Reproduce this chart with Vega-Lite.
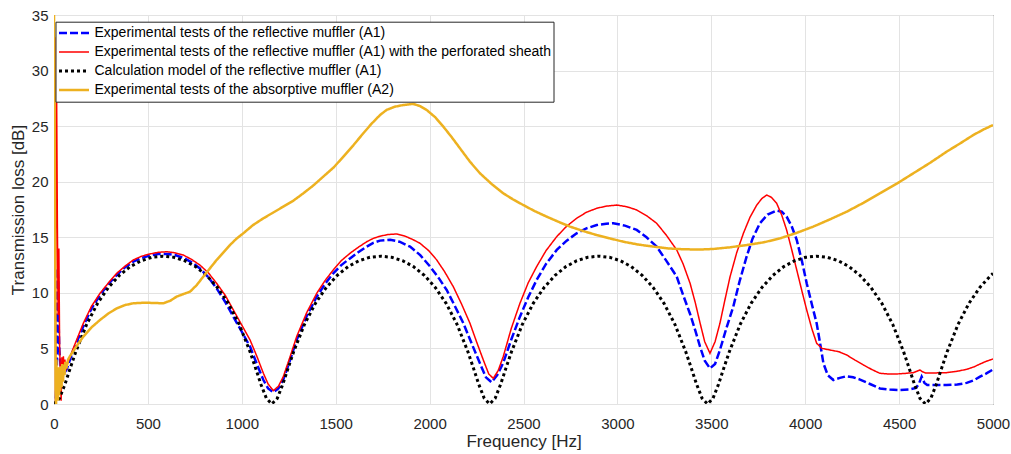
{
  "$schema": "https://vega.github.io/schema/vega-lite/v6.json",
  "width": 939,
  "height": 389,
  "autosize": {"type": "none"},
  "padding": {"left": 54, "top": 15, "right": 18, "bottom": 50},
  "background": "white",
  "config": {"font": "Liberation Sans", "view": {"stroke": "#262626", "strokeWidth": 1}},
  "data": {"values": [
    {"s":"b","f":10,"v":0.5},{"s":"b","f":15,"v":3},{"s":"b","f":19,"v":12.2},{"s":"b","f":22,"v":11},{"s":"b","f":25,"v":7},{"s":"b","f":28,"v":5},{"s":"b","f":32,"v":4},{"s":"b","f":38,"v":3},{"s":"b","f":45,"v":2.5},{"s":"b","f":55,"v":2.8},{"s":"b","f":67,"v":3.1},{"s":"b","f":100,"v":4.7},{"s":"b","f":156,"v":7.0},{"s":"b","f":200,"v":8.6},{"s":"b","f":245,"v":9.8},{"s":"b","f":290,"v":10.8},{"s":"b","f":334,"v":11.6},{"s":"b","f":378,"v":12.3},{"s":"b","f":422,"v":12.8},{"s":"b","f":467,"v":13.15},{"s":"b","f":511,"v":13.35},{"s":"b","f":555,"v":13.5},{"s":"b","f":600,"v":13.5},{"s":"b","f":645,"v":13.4},{"s":"b","f":689,"v":13.15},{"s":"b","f":733,"v":12.75},{"s":"b","f":777,"v":12.2},{"s":"b","f":822,"v":11.4},{"s":"b","f":866,"v":10.4},{"s":"b","f":911,"v":9.2},{"s":"b","f":955,"v":7.86},{"s":"b","f":1000,"v":6.5},{"s":"b","f":1044,"v":5.16},{"s":"b","f":1080,"v":3.6},{"s":"b","f":1115,"v":2.16},{"s":"b","f":1140,"v":1.4},{"s":"b","f":1168,"v":1.05},{"s":"b","f":1195,"v":1.4},{"s":"b","f":1221,"v":2.2},{"s":"b","f":1256,"v":3.9},{"s":"b","f":1292,"v":5.76},{"s":"b","f":1345,"v":7.9},{"s":"b","f":1399,"v":9.66},{"s":"b","f":1443,"v":10.8},{"s":"b","f":1487,"v":11.76},{"s":"b","f":1530,"v":12.5},{"s":"b","f":1576,"v":13.1},{"s":"b","f":1620,"v":13.65},{"s":"b","f":1665,"v":14.16},{"s":"b","f":1700,"v":14.5},{"s":"b","f":1736,"v":14.7},{"s":"b","f":1790,"v":14.78},{"s":"b","f":1840,"v":14.6},{"s":"b","f":1896,"v":14.16},{"s":"b","f":1950,"v":13.4},{"s":"b","f":2003,"v":12.36},{"s":"b","f":2050,"v":11.3},{"s":"b","f":2091,"v":10.26},{"s":"b","f":2135,"v":8.8},{"s":"b","f":2180,"v":7.26},{"s":"b","f":2225,"v":5.4},{"s":"b","f":2268,"v":3.66},{"s":"b","f":2300,"v":2.4},{"s":"b","f":2330,"v":1.95},{"s":"b","f":2360,"v":2.6},{"s":"b","f":2392,"v":3.7},{"s":"b","f":2435,"v":5.8},{"s":"b","f":2481,"v":7.86},{"s":"b","f":2525,"v":9.6},{"s":"b","f":2570,"v":11.16},{"s":"b","f":2620,"v":12.6},{"s":"b","f":2677,"v":13.86},{"s":"b","f":2730,"v":14.7},{"s":"b","f":2783,"v":15.36},{"s":"b","f":2835,"v":15.8},{"s":"b","f":2890,"v":16.1},{"s":"b","f":2940,"v":16.22},{"s":"b","f":2978,"v":16.26},{"s":"b","f":3040,"v":16.05},{"s":"b","f":3103,"v":15.66},{"s":"b","f":3155,"v":15.0},{"s":"b","f":3209,"v":14.16},{"s":"b","f":3260,"v":12.9},{"s":"b","f":3316,"v":11.46},{"s":"b","f":3350,"v":9.8},{"s":"b","f":3387,"v":8.1},{"s":"b","f":3415,"v":6.6},{"s":"b","f":3440,"v":5.16},{"s":"b","f":3465,"v":3.9},{"s":"b","f":3493,"v":3.2},{"s":"b","f":3520,"v":3.6},{"s":"b","f":3546,"v":4.86},{"s":"b","f":3580,"v":6.8},{"s":"b","f":3617,"v":8.76},{"s":"b","f":3650,"v":11.0},{"s":"b","f":3688,"v":13.26},{"s":"b","f":3720,"v":14.9},{"s":"b","f":3759,"v":16.26},{"s":"b","f":3800,"v":17.05},{"s":"b","f":3848,"v":17.4},{"s":"b","f":3875,"v":17.3},{"s":"b","f":3901,"v":16.86},{"s":"b","f":3928,"v":16.0},{"s":"b","f":3955,"v":14.76},{"s":"b","f":3982,"v":12.9},{"s":"b","f":4008,"v":10.86},{"s":"b","f":4035,"v":9.0},{"s":"b","f":4061,"v":7.26},{"s":"b","f":4080,"v":5.4},{"s":"b","f":4097,"v":3.66},{"s":"b","f":4120,"v":2.6},{"s":"b","f":4150,"v":2.16},{"s":"b","f":4185,"v":2.35},{"s":"b","f":4221,"v":2.5},{"s":"b","f":4255,"v":2.4},{"s":"b","f":4292,"v":2.2},{"s":"b","f":4345,"v":1.8},{"s":"b","f":4398,"v":1.4},{"s":"b","f":4450,"v":1.3},{"s":"b","f":4505,"v":1.26},{"s":"b","f":4550,"v":1.3},{"s":"b","f":4590,"v":1.45},{"s":"b","f":4605,"v":1.8},{"s":"b","f":4620,"v":2.46},{"s":"b","f":4635,"v":1.9},{"s":"b","f":4650,"v":1.7},{"s":"b","f":4700,"v":1.7},{"s":"b","f":4753,"v":1.7},{"s":"b","f":4810,"v":1.75},{"s":"b","f":4860,"v":1.9},{"s":"b","f":4900,"v":2.15},{"s":"b","f":4931,"v":2.46},{"s":"b","f":4965,"v":2.75},{"s":"b","f":5000,"v":3.1},
    {"s":"r","f":8,"v":0},{"s":"r","f":12,"v":33},{"s":"r","f":15,"v":25},{"s":"r","f":18,"v":16},{"s":"r","f":22,"v":8},{"s":"r","f":26,"v":14},{"s":"r","f":30,"v":5},{"s":"r","f":34,"v":3},{"s":"r","f":38,"v":0.3},{"s":"r","f":42,"v":4.2},{"s":"r","f":46,"v":2.8},{"s":"r","f":50,"v":4.3},{"s":"r","f":54,"v":2.9},{"s":"r","f":58,"v":4.0},{"s":"r","f":62,"v":3.0},{"s":"r","f":67,"v":3.4},{"s":"r","f":100,"v":4.9},{"s":"r","f":156,"v":7.26},{"s":"r","f":200,"v":8.8},{"s":"r","f":245,"v":9.96},{"s":"r","f":290,"v":10.9},{"s":"r","f":334,"v":11.76},{"s":"r","f":378,"v":12.4},{"s":"r","f":422,"v":12.96},{"s":"r","f":467,"v":13.3},{"s":"r","f":511,"v":13.5},{"s":"r","f":555,"v":13.65},{"s":"r","f":600,"v":13.7},{"s":"r","f":645,"v":13.6},{"s":"r","f":689,"v":13.4},{"s":"r","f":733,"v":13.0},{"s":"r","f":777,"v":12.5},{"s":"r","f":822,"v":11.8},{"s":"r","f":866,"v":10.86},{"s":"r","f":911,"v":9.8},{"s":"r","f":955,"v":8.46},{"s":"r","f":1000,"v":7.1},{"s":"r","f":1044,"v":5.76},{"s":"r","f":1080,"v":4.3},{"s":"r","f":1115,"v":2.76},{"s":"r","f":1140,"v":1.8},{"s":"r","f":1168,"v":1.2},{"s":"r","f":1195,"v":1.6},{"s":"r","f":1221,"v":2.46},{"s":"r","f":1256,"v":4.2},{"s":"r","f":1292,"v":6.06},{"s":"r","f":1345,"v":8.2},{"s":"r","f":1399,"v":9.96},{"s":"r","f":1443,"v":11.1},{"s":"r","f":1487,"v":12.06},{"s":"r","f":1530,"v":12.9},{"s":"r","f":1576,"v":13.56},{"s":"r","f":1620,"v":14.1},{"s":"r","f":1665,"v":14.6},{"s":"r","f":1700,"v":14.9},{"s":"r","f":1736,"v":15.1},{"s":"r","f":1780,"v":15.25},{"s":"r","f":1825,"v":15.3},{"s":"r","f":1870,"v":15.1},{"s":"r","f":1910,"v":14.8},{"s":"r","f":1949,"v":14.46},{"s":"r","f":1995,"v":13.8},{"s":"r","f":2038,"v":12.96},{"s":"r","f":2080,"v":11.9},{"s":"r","f":2126,"v":10.56},{"s":"r","f":2170,"v":9.0},{"s":"r","f":2215,"v":7.26},{"s":"r","f":2250,"v":5.6},{"s":"r","f":2286,"v":3.96},{"s":"r","f":2315,"v":2.7},{"s":"r","f":2339,"v":2.31},{"s":"r","f":2365,"v":3.0},{"s":"r","f":2392,"v":4.26},{"s":"r","f":2435,"v":6.8},{"s":"r","f":2481,"v":9.06},{"s":"r","f":2525,"v":10.9},{"s":"r","f":2570,"v":12.36},{"s":"r","f":2620,"v":13.8},{"s":"r","f":2677,"v":15.06},{"s":"r","f":2730,"v":16.0},{"s":"r","f":2783,"v":16.71},{"s":"r","f":2835,"v":17.25},{"s":"r","f":2890,"v":17.61},{"s":"r","f":2940,"v":17.8},{"s":"r","f":2996,"v":17.9},{"s":"r","f":3050,"v":17.75},{"s":"r","f":3103,"v":17.46},{"s":"r","f":3155,"v":16.95},{"s":"r","f":3209,"v":16.26},{"s":"r","f":3260,"v":15.2},{"s":"r","f":3316,"v":13.86},{"s":"r","f":3350,"v":12.6},{"s":"r","f":3387,"v":10.86},{"s":"r","f":3415,"v":9.1},{"s":"r","f":3440,"v":7.3},{"s":"r","f":3465,"v":5.6},{"s":"r","f":3493,"v":4.56},{"s":"r","f":3520,"v":5.6},{"s":"r","f":3546,"v":7.26},{"s":"r","f":3573,"v":9.4},{"s":"r","f":3600,"v":11.46},{"s":"r","f":3635,"v":13.6},{"s":"r","f":3671,"v":15.36},{"s":"r","f":3706,"v":16.8},{"s":"r","f":3742,"v":17.9},{"s":"r","f":3770,"v":18.5},{"s":"r","f":3795,"v":18.8},{"s":"r","f":3820,"v":18.6},{"s":"r","f":3848,"v":18.06},{"s":"r","f":3875,"v":17.0},{"s":"r","f":3901,"v":15.66},{"s":"r","f":3928,"v":13.9},{"s":"r","f":3955,"v":12.06},{"s":"r","f":3982,"v":10.2},{"s":"r","f":4008,"v":8.46},{"s":"r","f":4035,"v":6.8},{"s":"r","f":4061,"v":5.46},{"s":"r","f":4090,"v":5.0},{"s":"r","f":4132,"v":4.86},{"s":"r","f":4180,"v":4.7},{"s":"r","f":4221,"v":4.41},{"s":"r","f":4265,"v":3.95},{"s":"r","f":4310,"v":3.51},{"s":"r","f":4355,"v":3.1},{"s":"r","f":4398,"v":2.76},{"s":"r","f":4440,"v":2.7},{"s":"r","f":4487,"v":2.7},{"s":"r","f":4530,"v":2.75},{"s":"r","f":4576,"v":2.82},{"s":"r","f":4611,"v":3.06},{"s":"r","f":4625,"v":2.9},{"s":"r","f":4640,"v":2.8},{"s":"r","f":4700,"v":2.8},{"s":"r","f":4753,"v":2.82},{"s":"r","f":4810,"v":2.95},{"s":"r","f":4860,"v":3.12},{"s":"r","f":4900,"v":3.35},{"s":"r","f":4931,"v":3.6},{"s":"r","f":4965,"v":3.85},{"s":"r","f":5000,"v":4.05},
    {"s":"k","f":0,"v":0},{"s":"k","f":29,"v":0.51},{"s":"k","f":58,"v":1.76},{"s":"k","f":87,"v":3.25},{"s":"k","f":116,"v":4.7},{"s":"k","f":174,"v":7.17},{"s":"k","f":232,"v":9.06},{"s":"k","f":290,"v":10.49},{"s":"k","f":348,"v":11.57},{"s":"k","f":406,"v":12.36},{"s":"k","f":464,"v":12.89},{"s":"k","f":522,"v":13.2},{"s":"k","f":580,"v":13.3},{"s":"k","f":638,"v":13.2},{"s":"k","f":696,"v":12.89},{"s":"k","f":754,"v":12.36},{"s":"k","f":812,"v":11.57},{"s":"k","f":870,"v":10.49},{"s":"k","f":928,"v":9.06},{"s":"k","f":986,"v":7.17},{"s":"k","f":1044,"v":4.7},{"s":"k","f":1073,"v":3.25},{"s":"k","f":1102,"v":1.76},{"s":"k","f":1131,"v":0.51},{"s":"k","f":1160,"v":0},
    {"s":"k","f":1189,"v":0.51},{"s":"k","f":1218,"v":1.76},{"s":"k","f":1247,"v":3.25},{"s":"k","f":1276,"v":4.7},{"s":"k","f":1334,"v":7.17},{"s":"k","f":1392,"v":9.06},{"s":"k","f":1450,"v":10.49},{"s":"k","f":1508,"v":11.57},{"s":"k","f":1566,"v":12.36},{"s":"k","f":1624,"v":12.89},{"s":"k","f":1682,"v":13.2},{"s":"k","f":1740,"v":13.3},{"s":"k","f":1798,"v":13.2},{"s":"k","f":1856,"v":12.89},{"s":"k","f":1914,"v":12.36},{"s":"k","f":1972,"v":11.57},{"s":"k","f":2030,"v":10.49},{"s":"k","f":2088,"v":9.06},{"s":"k","f":2146,"v":7.17},{"s":"k","f":2204,"v":4.7},{"s":"k","f":2233,"v":3.25},{"s":"k","f":2262,"v":1.76},{"s":"k","f":2291,"v":0.51},{"s":"k","f":2320,"v":0},
    {"s":"k","f":2349,"v":0.51},{"s":"k","f":2378,"v":1.76},{"s":"k","f":2407,"v":3.25},{"s":"k","f":2436,"v":4.7},{"s":"k","f":2494,"v":7.17},{"s":"k","f":2552,"v":9.06},{"s":"k","f":2610,"v":10.49},{"s":"k","f":2668,"v":11.57},{"s":"k","f":2726,"v":12.36},{"s":"k","f":2784,"v":12.89},{"s":"k","f":2842,"v":13.2},{"s":"k","f":2900,"v":13.3},{"s":"k","f":2958,"v":13.2},{"s":"k","f":3016,"v":12.89},{"s":"k","f":3074,"v":12.36},{"s":"k","f":3132,"v":11.57},{"s":"k","f":3190,"v":10.49},{"s":"k","f":3248,"v":9.06},{"s":"k","f":3306,"v":7.17},{"s":"k","f":3364,"v":4.7},{"s":"k","f":3393,"v":3.25},{"s":"k","f":3422,"v":1.76},{"s":"k","f":3451,"v":0.51},{"s":"k","f":3480,"v":0},
    {"s":"k","f":3509,"v":0.51},{"s":"k","f":3538,"v":1.76},{"s":"k","f":3567,"v":3.25},{"s":"k","f":3596,"v":4.7},{"s":"k","f":3654,"v":7.17},{"s":"k","f":3712,"v":9.06},{"s":"k","f":3770,"v":10.49},{"s":"k","f":3828,"v":11.57},{"s":"k","f":3886,"v":12.36},{"s":"k","f":3944,"v":12.89},{"s":"k","f":4002,"v":13.2},{"s":"k","f":4060,"v":13.3},{"s":"k","f":4118,"v":13.2},{"s":"k","f":4176,"v":12.89},{"s":"k","f":4234,"v":12.36},{"s":"k","f":4292,"v":11.57},{"s":"k","f":4350,"v":10.49},{"s":"k","f":4408,"v":9.06},{"s":"k","f":4466,"v":7.17},{"s":"k","f":4524,"v":4.7},{"s":"k","f":4553,"v":3.25},{"s":"k","f":4582,"v":1.76},{"s":"k","f":4611,"v":0.51},{"s":"k","f":4640,"v":0},
    {"s":"k","f":4669,"v":0.51},{"s":"k","f":4698,"v":1.76},{"s":"k","f":4727,"v":3.25},{"s":"k","f":4756,"v":4.7},{"s":"k","f":4814,"v":7.17},{"s":"k","f":4872,"v":9.06},{"s":"k","f":4930,"v":10.49},{"s":"k","f":4988,"v":11.57},{"s":"k","f":5000,"v":11.75},
    {"s":"y","f":0,"v":35},{"s":"y","f":3,"v":28},{"s":"y","f":5,"v":18},{"s":"y","f":7,"v":8},{"s":"y","f":9,"v":1},{"s":"y","f":11,"v":0},{"s":"y","f":13,"v":4},{"s":"y","f":15,"v":0.5},{"s":"y","f":18,"v":3},{"s":"y","f":21,"v":0.3},{"s":"y","f":24,"v":3.3},{"s":"y","f":27,"v":0.8},{"s":"y","f":30,"v":3},{"s":"y","f":33,"v":1.2},{"s":"y","f":36,"v":3.4},{"s":"y","f":40,"v":1.5},{"s":"y","f":44,"v":3.6},{"s":"y","f":48,"v":2},{"s":"y","f":52,"v":3.5},{"s":"y","f":56,"v":2.6},{"s":"y","f":60,"v":3.8},{"s":"y","f":66,"v":3.2},{"s":"y","f":75,"v":4.0},{"s":"y","f":85,"v":4.3},{"s":"y","f":120,"v":5.2},{"s":"y","f":156,"v":6.06},{"s":"y","f":200,"v":6.9},{"s":"y","f":245,"v":7.56},{"s":"y","f":290,"v":8.15},{"s":"y","f":334,"v":8.6},{"s":"y","f":378,"v":8.9},{"s":"y","f":422,"v":9.06},{"s":"y","f":467,"v":9.1},{"s":"y","f":511,"v":9.1},{"s":"y","f":550,"v":9.08},{"s":"y","f":582,"v":9.06},{"s":"y","f":620,"v":9.3},{"s":"y","f":653,"v":9.66},{"s":"y","f":690,"v":9.9},{"s":"y","f":724,"v":10.1},{"s":"y","f":760,"v":10.7},{"s":"y","f":795,"v":11.46},{"s":"y","f":830,"v":12.2},{"s":"y","f":866,"v":12.96},{"s":"y","f":900,"v":13.6},{"s":"y","f":937,"v":14.3},{"s":"y","f":970,"v":14.85},{"s":"y","f":1008,"v":15.36},{"s":"y","f":1060,"v":16.1},{"s":"y","f":1115,"v":16.71},{"s":"y","f":1165,"v":17.2},{"s":"y","f":1221,"v":17.76},{"s":"y","f":1275,"v":18.3},{"s":"y","f":1328,"v":18.96},{"s":"y","f":1380,"v":19.65},{"s":"y","f":1434,"v":20.46},{"s":"y","f":1490,"v":21.3},{"s":"y","f":1541,"v":22.26},{"s":"y","f":1595,"v":23.3},{"s":"y","f":1647,"v":24.36},{"s":"y","f":1690,"v":25.2},{"s":"y","f":1736,"v":26.0},{"s":"y","f":1771,"v":26.46},{"s":"y","f":1815,"v":26.75},{"s":"y","f":1860,"v":26.9},{"s":"y","f":1913,"v":27.0},{"s":"y","f":1950,"v":26.8},{"s":"y","f":1984,"v":26.46},{"s":"y","f":2030,"v":25.8},{"s":"y","f":2073,"v":24.96},{"s":"y","f":2118,"v":24.0},{"s":"y","f":2162,"v":23.0},{"s":"y","f":2215,"v":21.8},{"s":"y","f":2268,"v":20.76},{"s":"y","f":2330,"v":19.8},{"s":"y","f":2392,"v":18.96},{"s":"y","f":2445,"v":18.4},{"s":"y","f":2499,"v":17.9},{"s":"y","f":2560,"v":17.35},{"s":"y","f":2623,"v":16.86},{"s":"y","f":2685,"v":16.4},{"s":"y","f":2748,"v":15.96},{"s":"y","f":2820,"v":15.55},{"s":"y","f":2890,"v":15.2},{"s":"y","f":2960,"v":14.9},{"s":"y","f":3032,"v":14.6},{"s":"y","f":3110,"v":14.35},{"s":"y","f":3191,"v":14.16},{"s":"y","f":3270,"v":14.0},{"s":"y","f":3350,"v":13.92},{"s":"y","f":3440,"v":13.9},{"s":"y","f":3511,"v":13.95},{"s":"y","f":3600,"v":14.1},{"s":"y","f":3688,"v":14.3},{"s":"y","f":3780,"v":14.55},{"s":"y","f":3866,"v":14.9},{"s":"y","f":3955,"v":15.4},{"s":"y","f":4043,"v":15.96},{"s":"y","f":4130,"v":16.6},{"s":"y","f":4221,"v":17.3},{"s":"y","f":4310,"v":18.1},{"s":"y","f":4398,"v":18.96},{"s":"y","f":4490,"v":19.85},{"s":"y","f":4576,"v":20.76},{"s":"y","f":4665,"v":21.7},{"s":"y","f":4753,"v":22.7},{"s":"y","f":4830,"v":23.5},{"s":"y","f":4895,"v":24.2},{"s":"y","f":4950,"v":24.7},{"s":"y","f":5000,"v":25.1}
  ]},
  "encoding": {
    "x": {"field": "f", "type": "quantitative",
      "scale": {"domain": [0, 5000], "nice": false, "zero": false},
      "axis": {"values": [0,500,1000,1500,2000,2500,3000,3500,4000,4500,5000], "format": "d", "title": "Frequency [Hz]",
        "grid": true, "gridColor": "#e3e3e3", "domain": false, "ticks": false,
        "labelFontSize": 15, "labelColor": "#262626", "labelPadding": 12, "labelFlush": false,
        "titleFontSize": 17, "titleFontWeight": "normal", "titleColor": "#262626", "titlePadding": 2}},
    "y": {"field": "v", "type": "quantitative",
      "scale": {"domain": [0, 35], "nice": false},
      "axis": {"values": [0,5,10,15,20,25,30,35], "title": "Transmission loss [dB]",
        "grid": true, "gridColor": "#e3e3e3", "domain": false, "ticks": false,
        "labelFontSize": 15, "labelColor": "#262626", "labelPadding": 6,
        "titleFontSize": 17, "titleFontWeight": "normal", "titleColor": "#262626", "titlePadding": 4}},
    "color": {"field": "s", "type": "nominal",
      "scale": {"domain": ["b","r","k","y"], "range": ["#0000ff","#ff0000","#000000","#edb120"]},
      "legend": {"title": null, "orient": "none", "legendX": 1.5, "legendY": 6.7,
        "fillColor": "white", "strokeColor": "#262626", "padding": 2, "cornerRadius": 0,
        "symbolType": "stroke", "symbolSize": 900, "labelFontSize": 14, "labelColor": "#000000", "labelOffset": 4,
        "clipHeight": 18.7, "rowPadding": 0,
        "labelExpr": "datum.value == 'b' ? 'Experimental tests of the reflective muffler (A1)' : datum.value == 'r' ? 'Experimental tests of the reflective muffler (A1) with the perforated sheath' : datum.value == 'k' ? 'Calculation model of the reflective muffler (A1)' : 'Experimental tests of the absorptive muffler (A2)'",
        "labelLimit": 600}},
    "strokeDash": {"field": "s", "type": "nominal",
      "scale": {"domain": ["b","r","k","y"], "range": [[8,3],[1,0],[3,3],[1,0]]}},
    "strokeWidth": {"field": "s", "type": "nominal",
      "scale": {"type": "ordinal", "domain": ["b","r","k","y"], "range": [2.5,1.5,3,2.5]}}
  },
  "layer": [
    {"transform": [{"filter": "datum.s == 'b'"}], "mark": {"type": "line", "clip": true}},
    {"transform": [{"filter": "datum.s == 'r'"}], "mark": {"type": "line", "clip": true}},
    {"transform": [{"filter": "datum.s == 'k'"}], "mark": {"type": "line", "clip": true}},
    {"transform": [{"filter": "datum.s == 'y'"}], "mark": {"type": "line", "clip": true}}
  ]
}
